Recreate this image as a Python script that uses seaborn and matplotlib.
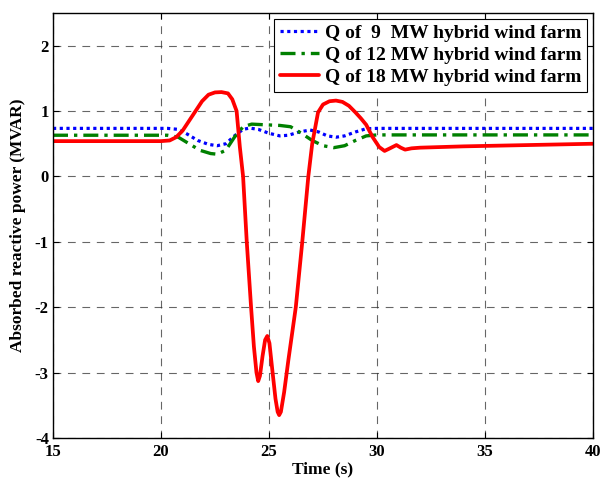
import matplotlib
matplotlib.use("Agg")
import matplotlib.pyplot as plt
import seaborn as sns
import pandas as pd

# ---- data ----
t_9 = [15, 20.3, 20.8, 21.2, 21.7, 22.2, 22.6, 23.0, 23.4, 23.8, 24.1, 24.5, 25.0, 25.5,
       25.9, 26.4, 26.9, 27.3, 27.7, 28.1, 28.5, 29.0, 29.5, 30.0, 40]
q_9 = [0.735, 0.735, 0.72, 0.65, 0.55, 0.49, 0.47, 0.50, 0.62, 0.72, 0.74, 0.72, 0.66, 0.62,
       0.63, 0.68, 0.71, 0.68, 0.62, 0.60, 0.62, 0.68, 0.73, 0.735, 0.735]

t_12 = [15, 20.3, 20.8, 21.3, 21.8, 22.3, 22.6, 23.0, 23.4, 23.8, 24.2, 24.8, 25.5, 26.0,
        26.5, 27.0, 27.5, 28.0, 28.5, 29.0, 29.5, 30.0, 40]
q_12 = [0.63, 0.63, 0.60, 0.50, 0.40, 0.35, 0.34, 0.40, 0.60, 0.76, 0.80, 0.79, 0.78, 0.76,
        0.66, 0.55, 0.47, 0.44, 0.47, 0.55, 0.62, 0.635, 0.635]

t_18 = [15, 20.0, 20.4, 20.7, 21.0, 21.3, 21.6, 21.9, 22.2, 22.5, 22.8, 23.1, 23.3, 23.5,
        23.65, 23.8, 23.97, 24.17, 24.3, 24.42, 24.5, 24.58, 24.7, 24.82, 24.92, 25.02,
        25.15, 25.3, 25.4, 25.47, 25.55, 25.7, 25.9, 26.24, 26.54, 26.82, 27.0, 27.27,
        27.5, 27.8, 28.1, 28.4, 28.7, 29.0, 29.25, 29.5, 29.8, 30.1, 30.35, 30.6, 30.9,
        31.1, 31.3, 31.6, 32.0, 34.0, 37.0, 40.0]
q_18 = [0.54, 0.54, 0.55, 0.60, 0.70, 0.85, 1.00, 1.15, 1.25, 1.285, 1.29, 1.27, 1.18, 1.00,
        0.45, 0.0, -1.0, -2.0, -2.6, -3.0, -3.13, -3.05, -2.75, -2.5, -2.44, -2.55,
        -2.95, -3.4, -3.6, -3.65, -3.6, -3.3, -2.8, -2.0, -1.0, 0.0, 0.5, 0.98,
        1.10, 1.15, 1.16, 1.14, 1.08, 0.98, 0.89, 0.79, 0.60, 0.45, 0.39, 0.43, 0.48,
        0.44, 0.41, 0.43, 0.44, 0.46, 0.48, 0.50]

labels = ["Q of  9  MW hybrid wind farm",
          "Q of 12 MW hybrid wind farm",
          "Q of 18 MW hybrid wind farm"]
x_ticks = [15, 20, 25, 30, 35, 40]
y_ticks = [-4, -3, -2, -1, 0, 1, 2]

sns.set_theme(style="white")
plt.rcParams["font.family"] = ["Liberation Serif", "DejaVu Serif"]
plt.rcParams["font.weight"] = "bold"
plt.rcParams["text.color"] = "black"
plt.rcParams["axes.labelcolor"] = "black"
plt.rcParams["xtick.color"] = "black"
plt.rcParams["ytick.color"] = "black"

fig = plt.figure(figsize=(6.05, 4.8), dpi=100)
ax = fig.add_axes([0.0876, 0.0875, 0.8926, 0.8855])

df9 = pd.DataFrame({"t": t_9, "q": q_9})
df12 = pd.DataFrame({"t": t_12, "q": q_12})
df18 = pd.DataFrame({"t": t_18, "q": q_18})

sns.lineplot(data=df9, x="t", y="q", ax=ax, color="#0000ff", linewidth=2.3,
             linestyle=(0, (1, 1.1)), label=labels[0], sort=False)
sns.lineplot(data=df12, x="t", y="q", ax=ax, color="#008000", linewidth=2.4,
             linestyle=(0, (4.5, 1.8, 1, 1.8)), label=labels[1], sort=False)
sns.lineplot(data=df18, x="t", y="q", ax=ax, color="#ff0000", linewidth=2.7,
             linestyle="-", label=labels[2], sort=False)

ax.set_xlim(15, 40)
ax.set_ylim(-4, 2.5)
ax.set_xticks(x_ticks)
ax.set_yticks(y_ticks)
ax.set_xticklabels([str(v) for v in x_ticks], fontsize=12, fontweight="bold", color="black")
ax.set_yticklabels([str(v) for v in y_ticks], fontsize=12, fontweight="bold", color="black")
ax.grid(True, color="#333333", linestyle=(0, (7, 6)), linewidth=0.8, alpha=0.75)
ax.tick_params(direction="in", length=4, width=0.8, top=True, right=True,
               bottom=True, left=True, colors="black", pad=3)
ax.tick_params(axis="x", pad=4)
for s in ax.spines.values():
    s.set_color("black")
    s.set_linewidth(1.0)

ax.set_xlabel("Time (s)", fontsize=12.5, fontweight="bold", labelpad=1, color="black")
ax.set_ylabel("Absorbed reactive power (MVAR)", fontsize=12.5, fontweight="bold",
              labelpad=6, color="black")

leg = ax.legend(loc="upper right", fontsize=14, frameon=True, fancybox=False,
                handlelength=2.0, handletextpad=0.3, borderaxespad=0.3,
                borderpad=0.3, labelspacing=0.22)
leg.get_frame().set_edgecolor("black")
leg.get_frame().set_linewidth(0.8)
leg.get_frame().set_alpha(1.0)
for txt in leg.get_texts():
    txt.set_fontweight("bold")
    txt.set_color("black")

fig.savefig("out.png", dpi=100)
